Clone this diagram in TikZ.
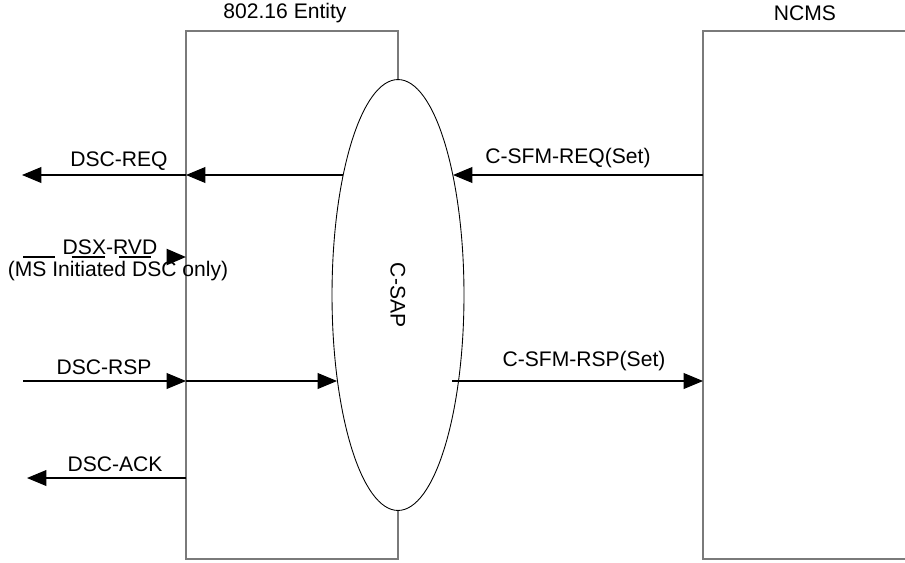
\documentclass[tikz,border=0pt]{standalone}
\usepackage{fontspec}
\setmainfont{Liberation Sans}
\usetikzlibrary{arrows.meta,shapes.geometric}
\definecolor{SAPGray}{HTML}{7A7A7A}

\begin{document}
\begin{tikzpicture}[x=0.02cm,y=-0.02cm,
  font=\fontsize{12}{14}\selectfont,
  entbox/.style={draw=SAPGray,line width=.7pt,inner sep=0pt,outer sep=0pt},
  msg/.style={line width=.6pt,-{Triangle[length=11pt,width=9pt]}},
  lbl/.style={inner sep=0pt}]
\path[use as bounding box] (0,0) rectangle (905,562);
\clip (0,0) rectangle (905,562);
\node[entbox,minimum width=4.24cm,minimum height=10.56cm] (ent) at (292,295) {};
\node[entbox,minimum width=5.2cm,minimum height=10.56cm] (ncms) at (833,295) {};
\node[lbl] (enttitle) at (285,13) {802.16 Entity};
\node[lbl] (ncmstitle) at (805,13) {NCMS};
\node[draw,ellipse,fill=white,line width=.5pt,inner sep=0pt,
  minimum width=2.64cm,minimum height=8.62cm] (csap) at (398,295) {};
\node[lbl,rotate=-90] (csaptxt) at (csap) {C-SAP};
% message end points
\coordinate (reqSap) at (343,175);
\coordinate (reqEnt) at (186,175);
\coordinate (reqOut) at (22,175);
\coordinate (reqSapR) at (453,175);
\coordinate (reqNcms) at (703,175);
\coordinate (rvdOut) at (23,257);
\coordinate (rvdEnt) at (186,257);
\coordinate (rspOut) at (23,381);
\coordinate (rspEnt) at (186,381);
\coordinate (rspSap) at (337,381);
\coordinate (rspSapR) at (452,381);
\coordinate (rspNcms) at (703,381);
\coordinate (ackEnt) at (186,478);
\coordinate (ackOut) at (27,478);
% messages
\draw[msg] (reqNcms) -- (reqSapR);
\draw[msg] (reqSap) -- (reqEnt);
\draw[msg] (reqEnt) -- (reqOut);
\draw[msg,line width=1.5pt,dash pattern=on 18.1pt off 9.6pt on 18.7pt off 8.5pt on 18.1pt off 20pt] (rvdOut) -- (rvdEnt);
\draw[msg] (rspOut) -- (rspEnt);
\draw[msg] (rspEnt) -- (rspSap);
\draw[msg] (rspSapR) -- (rspNcms);
\draw[msg] (ackEnt) -- (ackOut);
\node[lbl] (reqtxt) at (119,161) {DSC-REQ};
\node[lbl] (sfmreqtxt) at (568,158) {C-SFM-REQ(Set)};
\node[lbl] (rvdtxt) at (110,247) {DSX-RVD};
\node[lbl] (rvdnote) at (118,271) {(MS Initiated DSC only)};
\node[lbl] (rsptxt) at (104,367) {DSC-RSP};
\node[lbl] (sfmrsptxt) at (584,361) {C-SFM-RSP(Set)};
\node[lbl] (acktxt) at (115,464) {DSC-ACK};
\end{tikzpicture}
\end{document}
